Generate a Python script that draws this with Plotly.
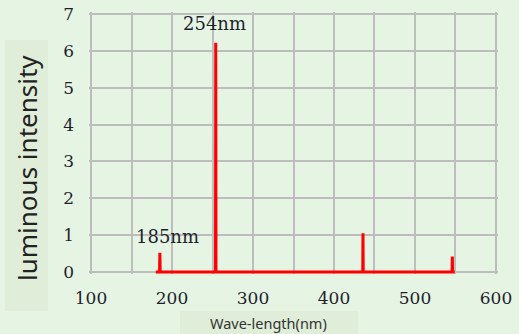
import plotly.graph_objects as go

# Spectrum (wavelength nm, luminous intensity)
wavelength = [180, 184.6, 185, 185.4, 253.7, 254, 254.3, 435.5, 435.8, 436.1, 545.8, 546.1, 546.4, 549]
intensity = [0, 0, 0.52, 0, 0, 6.22, 0, 0, 1.05, 0, 0, 0.42, 0, 0]

peak_labels = ["254nm", "185nm"]
peak_label_x = [253, 194]
peak_label_y = [6.73, 0.97]

x_ticks = [100, 200, 300, 400, 500, 600]
y_ticks = [0, 1, 2, 3, 4, 5, 6, 7]

BG = "#E6F5E3"
BOX = "#DFEDD9"
GRID = "#BDBDBD"
W, H = 519, 334
L, R, T, B = 89, 21, 12, 60
pw, ph = W - L - R, H - T - B

def px(x):
    return (x - L) / pw

def py(y):
    return (H - B - y) / ph

fig = go.Figure()
fig.add_trace(go.Scatter(x=wavelength, y=intensity, mode="lines",
                         line=dict(color="#FF0000", width=3), hoverinfo="skip"))

for t, xv, yv in zip(peak_labels, peak_label_x, peak_label_y):
    fig.add_annotation(x=xv, y=yv, text=t, showarrow=False, xanchor="center", yanchor="middle",
                       font=dict(family="DejaVu Serif", size=18, color="#1f1f2f"))

# axis title boxes
fig.add_shape(type="rect", xref="paper", yref="paper", x0=px(5), x1=px(48), y0=py(311), y1=py(40),
              fillcolor=BOX, line=dict(width=0), layer="below")
fig.add_shape(type="rect", xref="paper", yref="paper", x0=px(180), x1=px(358), y0=py(334), y1=py(311),
              fillcolor=BOX, line=dict(width=0), layer="below")
fig.add_annotation(xref="paper", yref="paper", x=px(27), y=py(168), text="luminous intensity",
                   textangle=-90, showarrow=False, xanchor="center", yanchor="middle",
                   font=dict(family="Noto Sans", size=26, color="#222222"))
fig.add_annotation(xref="paper", yref="paper", x=px(268), y=py(323), text="Wave-length(nm)",
                   showarrow=False, xanchor="center", yanchor="middle",
                   font=dict(family="Noto Sans", size=14.5, color="#333333"))

fig.update_xaxes(range=[97.5, 602.5], tickvals=x_ticks, showgrid=True, gridcolor=GRID, gridwidth=1.5,
                 minor=dict(dtick=50, tick0=0, showgrid=True, gridcolor=GRID, gridwidth=1.5),
                 zeroline=False, showline=False, ticks="", ticklabelstandoff=12,
                 tickfont=dict(family="DejaVu Serif", size=17, color="#1f1f2f"))
fig.update_yaxes(range=[-0.055, 7.055], tickvals=y_ticks, showgrid=True, gridcolor=GRID, gridwidth=1.5,
                 zeroline=False, showline=False, ticks="", ticklabelstandoff=14,
                 tickfont=dict(family="DejaVu Serif", size=17, color="#1f1f2f"))

fig.update_layout(width=W, height=H, margin=dict(l=L, r=R, t=T, b=B, autoexpand=False),
                  paper_bgcolor=BG, plot_bgcolor=BG, showlegend=False)

fig.write_html("out.html", config={"displayModeBar": False},
               post_script="document.body.style.margin='0';document.body.style.overflow='hidden';")
